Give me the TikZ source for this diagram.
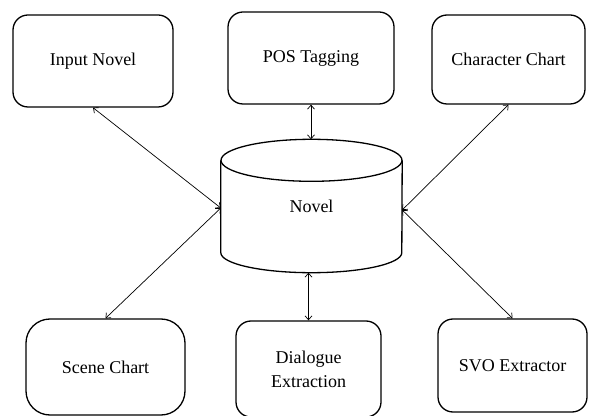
\documentclass[tikz,border=0pt]{standalone}
\usepackage{fontspec}
\setmainfont{Liberation Serif}
\usetikzlibrary{arrows.meta}
\begin{document}
\begin{tikzpicture}[x=1pt, y=1pt,
    box/.style={draw, line width=1.3pt, rounded corners=15pt, align=center,
      font=\fontsize{18}{24}\selectfont},
    link/.style={{Straight Barb[length=4pt,width=7pt]}-{Straight Barb[length=4pt,width=7pt]}, line width=0.7pt}]
  \useasboundingbox (0,0) rectangle (591,415);
  % Top row of boxes
  \node[box, minimum width=160pt, minimum height=92pt] (input) at (93,354) {Input Novel};
  \node[box, minimum width=166pt, minimum height=92pt] (pos) at (311,357) {POS Tagging};
  \node[box, minimum width=153pt, minimum height=89pt] (chart) at (508.5,355.5) {Character Chart};
  % Bottom row of boxes
  \node[box, rounded corners=24pt, minimum width=159pt, minimum height=96pt] (scene) at (105.5,48) {Scene Chart};
  \node[box, minimum width=145pt, minimum height=96pt] (dialogue) at (308.5,46) {Dialogue\\Extraction};
  \node[box, minimum width=149pt, minimum height=93pt] (svo) at (512.5,49.5) {SVO Extractor};
  % Novel store in the middle
  \node[minimum width=181pt, minimum height=133pt, font=\fontsize{18}{24}\selectfont] (novel) at (311.5,209) {Novel};
  \draw[line width=1.3pt] ([yshift=-21pt]novel.north) ellipse [x radius=90.5pt, y radius=21pt];
  \draw[line width=1.3pt] ([yshift=-21pt]novel.north west) -- ([yshift=20pt]novel.south west)
    arc[start angle=180, end angle=360, x radius=90.5pt, y radius=20pt]
    -- ([yshift=-21pt]novel.north east);
  % Links to the novel
  \draw[link] (input.south) -- ([yshift=-2pt]novel.west);
  \draw[link] (pos.south) -- (pos.south |- novel.north);
  \draw[link] (chart.south) -- ([yshift=-4pt]novel.east);
  \draw[link] (scene.north) -- ([yshift=-2pt]novel.west);
  \draw[link] (dialogue.north) -- (dialogue.north |- novel.south);
  \draw[link] (svo.north) -- ([yshift=-4pt]novel.east);
\end{tikzpicture}
\end{document}
